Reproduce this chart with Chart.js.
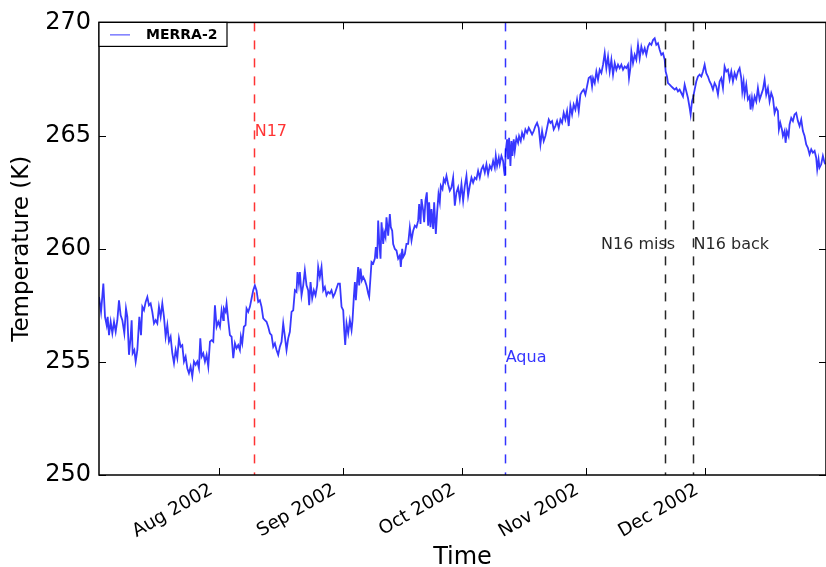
<!DOCTYPE html>
<html>
<head>
<meta charset="utf-8">
<script src="https://cdn.jsdelivr.net/npm/chart.js@4.4.1/dist/chart.umd.min.js"></script>
<style>
  html, body { margin: 0; padding: 0; background: #fff; }
  #wrap { width: 826px; height: 567px; }
</style>
</head>
<body>
<div id="wrap"><canvas id="tempChart" width="826" height="567"></canvas></div>
<script>
// time axis is in days since 2002-07-01 00Z
const tickDays = [31, 62, 92, 123, 153];
const tickLabels = ["Aug 2002", "Sep 2002", "Oct 2002", "Nov 2002", "Dec 2002"];
const tempTicks = [250, 255, 260, 265, 270];

// satellite events (vertical dashed lines)
const eventLabels = ["N17", "Aqua", "N16 miss", "N16 back"];
const eventDays = [39.8, 102.9, 143.0, 150.1];
const eventColors = ["rgba(255,0,0,0.8)", "rgba(0,0,255,0.8)", "rgba(0,0,0,0.85)", "rgba(0,0,0,0.85)"];
const eventTextDays = [39.9, 102.95, 126.9, 150.15];
const eventTextTemps = [265, 255, 260, 260];

// MERRA-2 temperature
const obsDays = [
  0.80,1.31,1.89,2.31,2.73,2.98,3.31,3.73,4.15,4.57,
  4.99,5.41,5.82,6.24,6.66,7.16,7.58,7.92,8.33,8.75,
  9.00,9.25,9.67,10.01,10.43,10.93,11.35,11.68,12.10,12.52,
  12.94,13.35,13.77,14.19,14.61,15.03,15.45,15.86,16.28,16.70,
  17.12,17.54,17.96,18.37,18.79,19.21,19.63,20.05,20.47,20.88,
  21.30,21.72,22.14,22.56,22.98,23.39,23.81,24.23,24.65,25.07,
  25.49,25.90,26.24,26.57,26.99,27.41,27.83,28.25,28.67,29.08,
  29.50,29.92,30.34,30.76,31.18,31.59,32.01,
  32.17,32.59,32.84,33.26,33.68,34.10,34.52,34.94,35.35,35.77,
  36.19,36.44,36.78,37.19,37.61,37.86,38.28,38.70,39.12,39.54,
  39.95,40.37,40.79,41.21,41.63,42.05,42.46,42.88,43.30,43.72,
  44.14,44.56,44.98,45.39,45.81,46.23,46.65,47.07,47.49,47.90,
  48.32,48.74,49.16,49.58,50.00,50.41,50.66,51.00,51.25,51.67,
  52.09,52.50,52.92,53.34,53.59,53.93,54.35,54.76,55.18,55.60,
  55.85,56.27,56.69,57.11,57.53,57.94,58.36,58.78,59.20,59.62,
  60.04,60.45,60.87,
  61.30,61.72,62.14,62.39,62.64,62.97,63.39,63.81,64.23,64.48,
  64.81,65.07,65.32,65.65,65.90,66.15,66.49,66.82,67.16,67.58,
  67.99,68.41,68.66,69.00,69.25,69.67,70.09,70.34,70.67,70.92,
  71.17,71.51,71.76,72.18,72.43,72.76,73.01,73.43,73.85,74.10,
  74.44,74.69,75.11,75.52,75.94,76.36,76.61,76.95,77.20,77.62,
  78.03,78.45,78.87,79.29,79.71,80.13,80.54,80.96,81.21,81.55,
  81.80,82.22,82.47,82.80,83.14,83.47,83.72,84.06,84.31,84.73,
  84.98,85.40,85.73,86.07,86.40,86.65,87.07,87.40,87.74,88.07,
  88.49,88.91,89.33,89.75,90.17,90.58,91.00,91.42,91.84,92.26,
  92.68,93.09,93.51,93.93,
  94.35,94.77,95.19,95.60,96.02,96.44,96.86,97.28,97.70,98.11,
  98.53,98.95,99.37,99.79,100.21,100.46,100.79,101.21,101.46,101.88,
  102.30,102.55,102.72,102.97,103.30,103.55,103.80,104.14,104.39,104.64,
  104.97,105.23,105.64,106.06,106.31,106.73,107.07,107.48,107.90,108.32,
  108.74,109.16,109.58,109.99,110.41,110.83,111.25,111.67,112.09,112.50,
  112.92,113.34,113.76,114.18,114.60,115.01,115.43,115.85,116.27,116.69,
  117.11,117.52,117.94,118.36,118.78,119.20,119.62,120.03,120.45,120.87,
  121.29,121.71,122.13,122.54,122.96,123.38,123.80,
  124.30,124.64,124.89,125.31,125.72,126.14,126.56,126.98,127.40,127.82,
  128.23,128.65,129.07,129.49,129.91,130.33,130.74,131.16,131.58,132.00,
  132.42,132.84,133.25,133.67,133.92,134.26,134.51,134.93,135.35,135.76,
  136.18,136.60,137.02,137.44,137.86,138.27,138.69,139.11,139.53,139.95,
  140.37,140.78,141.20,141.62,142.04,142.46,142.88,143.13,143.46,143.71,
  144.13,144.55,144.97,145.39,145.81,146.22,146.64,147.06,147.48,147.90,
  148.32,148.73,149.15,149.40,149.74,149.99,150.41,150.82,151.24,151.66,
  152.08,152.50,152.92,153.33,153.75,154.17,
  154.59,155.01,155.42,155.84,156.26,156.68,157.10,157.52,157.93,158.35,
  158.77,159.19,159.61,160.03,160.44,160.86,161.28,161.70,162.12,162.37,
  162.70,162.96,163.37,163.79,164.21,164.46,164.80,165.05,165.47,165.88,
  166.30,166.72,167.14,167.56,167.98,168.39,168.81,169.23,169.65,170.07,
  170.49,170.90,171.32,171.57,171.91,172.33,172.58,173.00,173.25,173.58,
  174.00,174.25,174.67,175.09,175.51,175.92,176.34,176.76,177.18,177.60,
  178.02,178.43,178.85,179.27,179.69,180.11,180.53,180.94,181.19,181.53,
  181.78,182.20,182.62,183.04,183.29
];
const obsTemps = [
  257.87,257.21,258.46,256.99,256.62,256.99,256.18,256.77,256.26,256.77,
  256.33,256.84,257.72,257.06,256.84,256.26,257.36,256.99,255.31,256.11,
  256.84,255.38,255.52,255.01,255.52,256.99,256.18,257.43,257.28,257.65,
  257.87,257.50,257.58,257.21,256.70,256.84,256.70,257.43,256.99,257.58,
  256.99,256.11,256.62,255.89,256.11,255.38,254.94,255.52,255.16,256.04,
  255.67,255.74,255.01,255.23,254.72,254.50,254.79,254.35,255.01,254.87,
  255.01,254.72,256.04,255.23,255.38,255.01,255.31,254.79,255.89,255.96,
  255.89,257.50,256.55,256.77,256.55,257.28,256.84,
  257.36,257.21,257.58,256.84,256.18,256.11,255.16,255.82,255.60,255.74,
  255.52,256.11,255.82,256.55,256.62,257.36,257.21,257.43,257.80,258.16,
  258.38,258.16,257.65,257.72,257.43,256.92,256.84,256.77,256.55,256.26,
  256.18,255.67,255.82,255.52,255.31,255.67,255.89,256.70,256.11,255.52,
  256.04,256.33,257.21,257.28,258.16,258.09,258.97,258.46,258.97,257.94,
  258.38,259.04,258.38,258.16,257.50,258.53,257.80,258.16,257.94,258.38,
  259.19,258.75,259.19,258.16,258.31,257.94,258.09,258.02,258.16,257.87,
  258.02,258.24,258.46,
  258.46,257.43,257.28,256.40,255.75,256.70,256.26,256.84,256.40,256.84,
  257.87,258.53,257.72,258.60,259.19,258.38,259.12,258.60,258.75,258.60,
  258.38,258.02,257.87,258.75,259.41,259.34,259.56,260.07,259.56,261.24,
  260.36,259.56,261.17,260.21,260.73,260.51,261.39,260.58,261.53,260.95,
  260.80,260.21,259.99,259.92,259.56,259.70,259.19,259.99,259.63,259.77,
  260.21,260.21,260.95,260.36,260.80,261.02,260.95,261.24,261.97,261.09,
  262.19,261.68,261.17,262.12,262.49,261.02,262.05,260.95,261.75,260.87,
  262.05,260.65,261.61,262.41,262.05,262.78,262.63,263.07,262.93,263.22,
  262.85,262.56,262.71,263.14,261.90,262.49,262.71,262.20,262.85,262.12,
  262.78,263.22,262.34,262.78,
  263.14,262.92,263.14,263.07,263.44,263.14,263.51,263.66,263.36,263.73,
  263.29,263.66,263.51,263.88,263.58,264.10,263.66,264.02,263.73,264.10,
  263.88,263.44,263.22,264.32,264.83,263.95,264.90,263.66,264.76,264.10,
  264.83,264.32,264.90,264.68,264.98,264.76,265.12,264.90,265.27,265.12,
  265.34,265.20,265.05,265.20,265.42,265.56,265.34,264.61,265.20,264.76,
  264.98,265.34,265.71,265.56,265.64,265.27,265.42,265.64,265.34,265.71,
  265.56,266.00,265.71,266.08,265.42,266.31,265.93,266.37,266.15,266.59,
  266.08,266.81,266.95,267.03,266.81,267.17,267.54,
  267.61,267.17,267.54,267.32,267.83,267.47,267.91,267.76,268.13,268.64,
  267.98,268.49,267.83,268.35,267.69,268.20,267.91,268.13,267.98,268.13,
  267.91,268.05,267.98,268.13,267.54,267.98,268.71,268.20,268.57,268.35,
  269.01,268.42,268.93,268.64,268.86,268.57,268.93,269.08,269.01,269.22,
  269.30,269.01,269.08,268.79,268.57,268.64,268.35,267.83,267.61,267.32,
  267.25,267.17,267.10,267.03,267.10,266.95,267.03,266.88,266.73,267.25,
  266.95,266.66,266.22,265.93,266.51,266.66,267.03,267.39,267.61,267.69,
  267.61,267.83,268.13,267.76,267.61,267.39,
  267.25,267.03,267.32,267.17,266.81,267.39,267.54,267.10,268.05,267.83,
  267.91,267.47,267.83,267.39,267.76,267.54,267.83,267.98,267.54,266.95,
  267.39,266.81,267.25,266.59,266.73,266.15,266.66,266.30,266.73,266.51,
  267.10,266.59,266.81,267.03,267.47,266.81,267.10,266.51,266.88,266.66,
  266.00,266.22,266.08,265.27,265.56,265.27,264.98,265.20,264.68,265.20,
  264.98,265.49,265.78,265.64,265.93,266.00,265.64,265.42,265.71,265.20,
  264.98,264.61,264.46,264.17,264.39,264.24,264.32,264.02,263.51,263.95,
  263.58,263.73,264.10,263.80,263.73
];

const FONT = '"DejaVu Sans", "Liberation Sans", sans-serif';
Chart.defaults.font.family = FONT;
Chart.defaults.color = "#000";

const TICK_LEN = 7;

// matplotlib-like frame, inward ticks, event lines and legend
const framePlugin = {
  id: "frame",
  afterDatasetsDraw(chart) {
    const { ctx, chartArea: a, scales: { x, y } } = chart;
    ctx.save();

    // event lines
    ctx.lineWidth = 1.5;
    ctx.setLineDash([9, 9]);
    eventDays.forEach((d, i) => {
      const px = Math.round(x.getPixelForValue(d)) + 0.5;
      ctx.strokeStyle = eventColors[i];
      ctx.beginPath();
      ctx.moveTo(px, a.top);
      ctx.lineTo(px, a.bottom);
      ctx.stroke();
    });
    ctx.setLineDash([]);

    ctx.font = "16px " + FONT;
    ctx.textAlign = "left";
    ctx.textBaseline = "alphabetic";
    eventLabels.forEach((t, i) => {
      ctx.fillStyle = eventColors[i];
      ctx.fillText(t, x.getPixelForValue(eventTextDays[i]), y.getPixelForValue(eventTextTemps[i]));
    });

    // ticks on all four sides, pointing in
    ctx.strokeStyle = "#000";
    ctx.lineWidth = 1;
    ctx.beginPath();
    x.ticks.forEach((t) => {
      const px = Math.round(x.getPixelForValue(t.value)) + 0.5;
      ctx.moveTo(px, a.bottom);
      ctx.lineTo(px, a.bottom - TICK_LEN);
      ctx.moveTo(px, a.top);
      ctx.lineTo(px, a.top + TICK_LEN);
    });
    y.ticks.forEach((t) => {
      const py = Math.round(y.getPixelForValue(t.value)) + 0.5;
      ctx.moveTo(a.left, py);
      ctx.lineTo(a.left + TICK_LEN, py);
      ctx.moveTo(a.right, py);
      ctx.lineTo(a.right - TICK_LEN, py);
    });
    ctx.stroke();

    // spines
    ctx.lineWidth = 1.5;
    ctx.strokeRect(a.left, a.top, a.right - a.left, a.bottom - a.top);

    // legend box
    const ds = chart.data.datasets[0];
    const bw = 128, bh = 24;
    ctx.fillStyle = "#fff";
    ctx.fillRect(a.left, a.top, bw, bh);
    ctx.lineWidth = 1.2;
    ctx.strokeRect(a.left, a.top, bw, bh);
    ctx.strokeStyle = ds.borderColor;
    ctx.lineWidth = 1;
    ctx.beginPath();
    ctx.moveTo(a.left + 11, a.top + 12.5);
    ctx.lineTo(a.left + 31, a.top + 12.5);
    ctx.stroke();
    ctx.fillStyle = "#000";
    ctx.font = "bold 14px " + FONT;
    ctx.textBaseline = "middle";
    ctx.fillText(ds.label, a.left + 47, a.top + 12.5);

    ctx.restore();
  }
};

new Chart(document.getElementById("tempChart"), {
  type: "line",
  data: {
    datasets: [{
      label: "MERRA-2",
      data: obsDays.map((d, i) => ({ x: d, y: obsTemps[i] })),
      borderColor: "rgba(0,0,255,0.78)",
      borderWidth: 1.8,
      pointRadius: 0,
      tension: 0,
      fill: false
    }]
  },
  options: {
    responsive: false,
    animation: false,
    layout: { padding: { top: 21, right: 0, left: 0, bottom: 0 } },
    plugins: {
      legend: { display: false },
      tooltip: { enabled: false }
    },
    scales: {
      x: {
        type: "linear",
        min: 0.8,
        max: 183.4,
        afterBuildTicks: (scale) => { scale.ticks = tickDays.map((v) => ({ value: v })); },
        afterFit: (scale) => { scale.height = 92; },
        grid: { display: false, drawTicks: false },
        border: { display: false },
        ticks: {
          autoSkip: false,
          minRotation: 30,
          maxRotation: 30,
          padding: 4,
          labelOffset: -8,
          font: { size: 18.5 },
          callback: (v) => tickLabels[tickDays.indexOf(v)] ?? ""
        },
        title: { display: true, text: "Time", font: { size: 24, lineHeight: 0.8 }, padding: { top: 0, bottom: 0 } }
      },
      y: {
        min: 250,
        max: 270,
        afterBuildTicks: (scale) => { scale.ticks = tempTicks.map((v) => ({ value: v })); },
        afterFit: (scale) => { scale.width = 99; },
        grid: { display: false, drawTicks: false },
        border: { display: false },
        ticks: { padding: 8, font: { size: 24 } },
        title: { display: true, text: "Temperature (K)", font: { size: 23 }, padding: { top: 8, bottom: 0 } }
      }
    }
  },
  plugins: [framePlugin]
});
</script>
</body>
</html>
